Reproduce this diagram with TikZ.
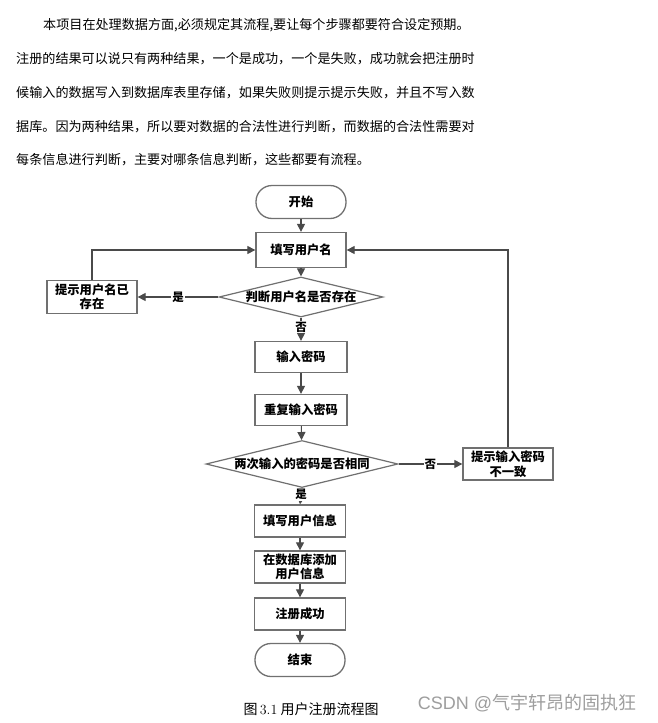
\documentclass[tikz,border=0pt]{standalone}
\usepackage{fontspec}
\usetikzlibrary{arrows.meta,shapes.geometric}
\newfontfamily\cjk{Noto Sans CJK SC}
\newfontfamily\wmfont{Liberation Sans}
\definecolor{linec}{HTML}{4A4A4A}
\definecolor{boxc}{HTML}{707070}
\tikzset{
  x=1pt, y=-1pt,
  para/.style={anchor=west, inner sep=0pt, font=\cjk\fontsize{13.1pt}{13pt}\selectfont},
  stepbox/.style={draw=boxc, line width=1.3pt, fill=white, minimum width=90pt, minimum height=32pt,
    inner sep=1pt, align=center, font=\cjk\bfseries\fontsize{12.3pt}{14.5pt}\selectfont},
  termbox/.style={stepbox, rounded corners=16pt},
  decbox/.style={diamond, draw=boxc, line width=1.2pt, fill=white, inner sep=0pt,
    font=\cjk\bfseries\fontsize{12.3pt}{14pt}\selectfont},
  conn/.style={draw=linec, line width=1.1pt, -{Triangle[length=8pt,width=8pt]}},
  lbl/.style={fill=white, inner sep=1pt, font=\cjk\bfseries\fontsize{11.5pt}{12pt}\selectfont}
}
\begin{document}
\begin{tikzpicture}
\useasboundingbox (0,0) rectangle (658,723);
\fill[white] (0,0) rectangle (658,723);
% paragraph
\node[para] (t1) at (43,25) {本项目在处理数据方面,必须规定其流程,要让每个步骤都要符合设定预期。};
\node[para] (t2) at (16,59) {注册的结果可以说只有两种结果，一个是成功，一个是失败，成功就会把注册时};
\node[para] (t3) at (16,93) {候输入的数据写入到数据库表里存储，如果失败则提示提示失败，并且不写入数};
\node[para] (t4) at (16,127) {据库。因为两种结果，所以要对数据的合法性进行判断，而数据的合法性需要对};
\node[para] (t5) at (16,160) {每条信息进行判断，主要对哪条信息判断，这些都要有流程。};
% flowchart
\node[termbox, minimum height=33pt] (start) at (301,202) {开始};
\node[stepbox, minimum height=35pt] (u1) at (301,250) {填写用户名};
\node[decbox, minimum width=164pt, minimum height=40pt] (d1) at (301,297) {\makebox[0pt]{判断用户名是否存在}};
\node[stepbox, minimum height=33pt] (e1) at (92,297) {提示用户名已\\存在};
\node[stepbox, minimum width=92pt, minimum height=31pt] (p1) at (301,357) {输入密码};
\node[stepbox, minimum width=92pt, minimum height=31pt] (p2) at (301,410) {重复输入密码};
\node[decbox, minimum width=192pt, minimum height=47pt] (d2) at (302,464) {\makebox[0pt]{两次输入的密码是否相同}};
\node[stepbox, minimum height=32pt] (e2) at (508,464) {提示输入密码\\不一致};
\node[stepbox, minimum width=91pt] (i1) at (300,521) {填写用户信息};
\node[stepbox, minimum width=91pt] (i2) at (300,567) {在数据库添加\\用户信息};
\node[stepbox, minimum width=91pt] (ok) at (300,614) {注册成功};
\node[termbox, minimum width=90pt, minimum height=33pt] (end) at (300,660) {结束};
% connectors
\draw[conn] (start) -- (u1);
\draw[conn] (u1) -- (d1);
\draw[conn] (d1.west) -- node[lbl, pos=0.5] {是} (e1.east);
\draw[conn] (e1.north) |- (u1.west);
\draw[conn] (d1.south) -- node[lbl, pos=0.4] {否} (p1.north);
\draw[conn] (p1) -- (p2);
\draw[conn] (p2) -- (d2);
\draw[conn] (d2.east) -- node[lbl, pos=0.5] {否} (e2.west);
\draw[conn] (e2.north) |- (u1.east);
\draw[conn] (d2.south) -- node[lbl, pos=0.4] {是} (i1.north);
\draw[conn] (i1) -- (i2);
\draw[conn] (i2) -- (ok);
\draw[conn] (ok) -- (end);
% caption and watermark
\node[inner sep=0pt, font=\cjk\fontsize{14pt}{14pt}\selectfont] (cap) at (311,709) {图\,{\rmfamily 3.1} 用户注册流程图};
\node[inner sep=0pt, text=black!38, font=\fontsize{18pt}{18pt}\selectfont] (wm) at (527,703) {\wmfont CSDN @\cjk 气宇轩昂的固执狂};
\end{tikzpicture}
\end{document}
